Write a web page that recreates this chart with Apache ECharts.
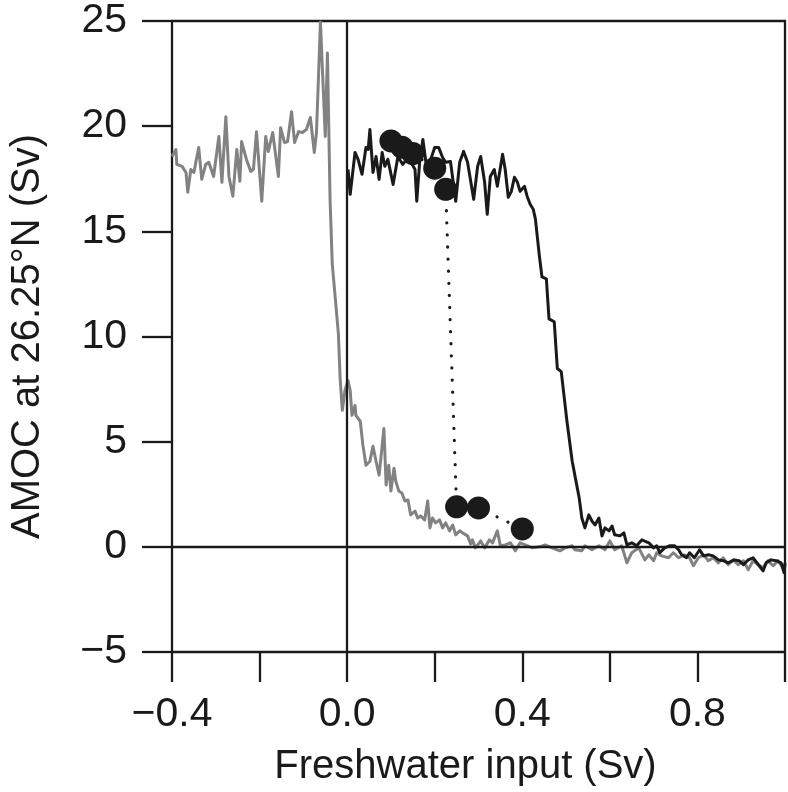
<!DOCTYPE html>
<html>
<head>
<meta charset="utf-8">
<script src="https://cdn.jsdelivr.net/npm/echarts@6/dist/echarts.min.js"></script>
<style>
html,body{margin:0;padding:0;background:#fff;}
#chart{width:788px;height:792px;}
</style>
</head>
<body>
<div id="chart"></div>
<script>
// Grey curve (reverse / decreasing freshwater branch)
const greyX = [-0.400,-0.391,-0.389,-0.377,-0.368,-0.364,-0.357,-0.350,-0.339,-0.332,-0.323,-0.316,-0.305,-0.293,-0.286,-0.277,-0.270,-0.261,-0.252,-0.245,-0.241,-0.230,-0.220,-0.214,-0.207,-0.195,-0.186,-0.180,-0.170,-0.157,-0.152,-0.143,-0.136,-0.127,-0.120,-0.111,-0.102,-0.093,-0.084,-0.075,-0.070,-0.061,-0.050,-0.045,-0.039,-0.034,-0.025,-0.020,-0.016,-0.011,-0.005,0.002,0.007,0.011,0.018,0.020,0.030,0.036,0.043,0.052,0.059,0.066,0.073,0.077,0.084,0.089,0.095,0.100,0.107,0.111,0.118,0.125,0.132,0.139,0.145,0.155,0.161,0.168,0.177,0.184,0.189,0.195,0.202,0.211,0.218,0.225,0.234,0.241,0.248,0.257,0.264,0.275,0.282,0.286,0.293,0.305,0.314,0.325,0.332,0.343,0.350,0.361,0.373,0.384,0.395,0.407,0.423,0.439,0.452,0.468,0.486,0.498,0.514,0.520,0.536,0.543,0.559,0.575,0.589,0.600,0.611,0.627,0.639,0.650,0.666,0.680,0.689,0.700,0.707,0.718,0.734,0.745,0.757,0.770,0.782,0.791,0.802,0.814,0.825,0.836,0.848,0.859,0.870,0.882,0.893,0.905,0.916,0.927,0.939,0.950,0.961,0.973,0.984,0.995,1.000];
const greyY = [18.56,18.89,18.18,18.09,17.80,16.86,17.94,17.80,18.99,17.47,18.18,18.28,17.61,19.51,17.33,20.45,17.61,16.67,18.89,17.38,19.27,18.42,17.85,17.95,19.74,16.43,19.51,18.80,19.70,17.61,19.93,19.22,19.27,20.69,19.22,19.74,19.70,19.84,20.41,18.75,19.70,24.95,19.51,23.48,16.50,13.45,11.32,10.13,8.00,6.49,7.43,7.91,7.43,6.25,6.72,6.25,5.97,4.83,3.88,4.07,4.78,4.07,3.41,4.21,5.63,2.94,3.88,2.65,3.74,3.13,2.65,2.56,2.18,2.23,1.52,1.70,1.37,1.47,1.28,2.18,0.90,1.37,1.14,1.28,0.90,1.14,0.76,1.04,0.57,0.76,0.66,0.52,0.14,0.33,-0.05,0.28,-0.05,0.33,0.19,0.76,0.05,0.09,0.19,-0.19,0.19,0.09,-0.05,0.00,0.09,-0.05,-0.19,-0.05,0.05,-0.14,-0.19,0.05,-0.14,0.05,-0.14,0.28,-0.14,0.05,-0.76,-0.28,-0.05,-0.62,-0.38,-0.66,-0.28,-0.43,-0.52,-0.28,-0.52,-0.38,-0.52,-0.90,-0.52,-0.38,-0.66,-0.52,-0.76,-0.52,-0.85,-0.62,-0.85,-0.66,-1.09,-0.66,-0.85,-0.99,-0.66,-0.90,-0.66,-0.99,-0.85];

// Black curve (increasing freshwater branch)
const blackX = [0.002,0.007,0.018,0.025,0.034,0.043,0.048,0.052,0.059,0.066,0.073,0.080,0.086,0.093,0.105,0.116,0.127,0.136,0.145,0.155,0.159,0.166,0.173,0.182,0.191,0.200,0.209,0.218,0.225,0.236,0.248,0.257,0.266,0.275,0.289,0.298,0.305,0.314,0.320,0.327,0.336,0.343,0.355,0.361,0.368,0.375,0.382,0.389,0.395,0.405,0.411,0.418,0.425,0.430,0.439,0.445,0.455,0.461,0.473,0.480,0.489,0.502,0.514,0.520,0.530,0.536,0.543,0.552,0.559,0.566,0.575,0.582,0.589,0.598,0.605,0.611,0.623,0.632,0.639,0.650,0.661,0.673,0.689,0.700,0.707,0.714,0.725,0.736,0.748,0.757,0.764,0.775,0.782,0.793,0.805,0.814,0.825,0.836,0.848,0.859,0.870,0.884,0.895,0.905,0.916,0.927,0.941,0.950,0.957,0.968,0.980,0.991,0.998,1.000];
const blackY = [17.94,16.76,18.75,18.42,17.71,18.99,18.89,19.84,17.80,18.56,17.47,18.75,18.09,18.42,17.23,18.56,18.18,18.42,18.32,17.94,16.43,18.42,19.37,17.94,18.42,18.99,18.99,18.51,18.28,18.32,16.43,18.28,18.80,18.28,16.52,18.09,18.56,17.33,15.81,17.61,17.94,17.14,18.66,17.94,16.62,16.90,17.57,17.33,16.90,17.14,16.67,16.29,16.05,15.58,13.83,12.83,12.74,10.84,10.70,8.48,8.33,5.97,4.07,3.41,2.32,1.37,0.90,1.52,1.23,1.04,1.37,0.52,0.90,0.76,0.99,0.57,0.52,0.66,0.09,0.19,0.05,0.33,0.19,-0.05,0.05,-0.28,-0.05,0.05,0.05,-0.14,-0.38,-0.52,-0.28,-0.52,-0.14,-0.43,-0.38,-0.43,-0.62,-0.66,-0.76,-0.62,-0.66,-0.85,-0.62,-0.52,-0.90,-1.14,-0.76,-0.62,-0.66,-0.76,-1.23,-0.76];

// Dotted equilibrium points
const dotX = [0.100,0.125,0.150,0.200,0.225,0.250,0.300,0.400];
const dotY = [19.3,19.0,18.7,18.0,17.0,1.9,1.85,0.85];

// Axis tick values
const xTicks = [-0.4,-0.2,0.0,0.2,0.4,0.6,0.8,1.0];
const xLabelled = [-0.4,0.0,0.4,0.8];
const yTicks = [-5,0,5,10,15,20,25];

const FONT = 'Liberation Sans, Arial, Helvetica, sans-serif';
const INK = '#1a1a1a';

function pairs(xs, ys){ return xs.map((x,i)=>[x, ys[i]]); }
function minus(s){ return s.replace('-', '\u2212'); }
function fmtX(v){
  const hit = xLabelled.some(t => Math.abs(t - v) < 1e-6);
  if (!hit) return '';
  return minus((Math.abs(v) < 1e-9 ? 0 : v).toFixed(1));
}
function fmtY(v){ return minus(String(Math.round(v))); }

const chart = echarts.init(document.getElementById('chart'), null, {renderer:'canvas'});
chart.setOption({
  animation: false,
  backgroundColor: '#ffffff',
  grid: {left:168, top:21, width:618, height:634, containLabel:false},
  xAxis: [{
    type:'value', min:xTicks[0], max:xTicks[xTicks.length-1], interval:0.2,
    position:'bottom',
    name:'Freshwater input (Sv)', nameLocation:'middle', nameGap:95,
    nameTextStyle:{fontFamily:FONT, fontSize:40, color:INK, padding:[0,26,0,0]},
    axisLine:{show:true, onZero:false, lineStyle:{color:INK, width:2.3}},
    axisTick:{show:true, inside:false, length:30, lineStyle:{color:INK, width:2.3}},
    axisLabel:{show:true, margin:42, formatter:fmtX, fontFamily:FONT, fontSize:41, color:INK},
    splitLine:{show:false}
  },{
    type:'value', min:xTicks[0], max:xTicks[xTicks.length-1], position:'top',
    axisLine:{show:true, onZero:false, lineStyle:{color:INK, width:2.3}},
    axisTick:{show:false}, axisLabel:{show:false}, splitLine:{show:false}
  }],
  yAxis: [{
    type:'value', min:yTicks[0], max:yTicks[yTicks.length-1], interval:5,
    position:'left',
    name:'AMOC at 26.25\u00B0N (Sv)', nameLocation:'middle', nameGap:124, nameRotate:90,
    nameTextStyle:{fontFamily:FONT, fontSize:40, color:INK},
    axisLine:{show:true, onZero:false, lineStyle:{color:INK, width:2.3}},
    axisTick:{show:true, inside:false, length:30, lineStyle:{color:INK, width:2.3}},
    axisLabel:{show:true, margin:45, formatter:fmtY, fontFamily:FONT, fontSize:41, color:INK},
    splitLine:{show:false}
  },{
    type:'value', min:yTicks[0], max:yTicks[yTicks.length-1], position:'right',
    axisLine:{show:true, onZero:false, lineStyle:{color:INK, width:2.3}},
    axisTick:{show:false}, axisLabel:{show:false}, splitLine:{show:false}
  }],
  series: [
    {
      type:'line', name:'zero', data:[], silent:true,
      markLine:{
        silent:true, symbol:['none','none'], label:{show:false},
        lineStyle:{color:INK, type:'solid', width:2.3},
        emphasis:{disabled:true},
        data:[{yAxis:0},{xAxis:0}]
      }
    },
    {
      type:'line', name:'grey', data:pairs(greyX, greyY), showSymbol:false, smooth:false,
      lineStyle:{color:'#828282', width:3, join:'round'}, z:3
    },
    {
      type:'line', name:'black', data:pairs(blackX, blackY), showSymbol:false, smooth:false,
      lineStyle:{color:INK, width:3, join:'round'}, z:4
    },
    {
      type:'line', name:'dots', data:pairs(dotX, dotY), symbol:'circle', symbolSize:23,
      showSymbol:true,
      itemStyle:{color:INK},
      lineStyle:{color:INK, width:3.2, type:[0.1, 12], cap:'round'}, z:5
    }
  ]
});
</script>
</body>
</html>
